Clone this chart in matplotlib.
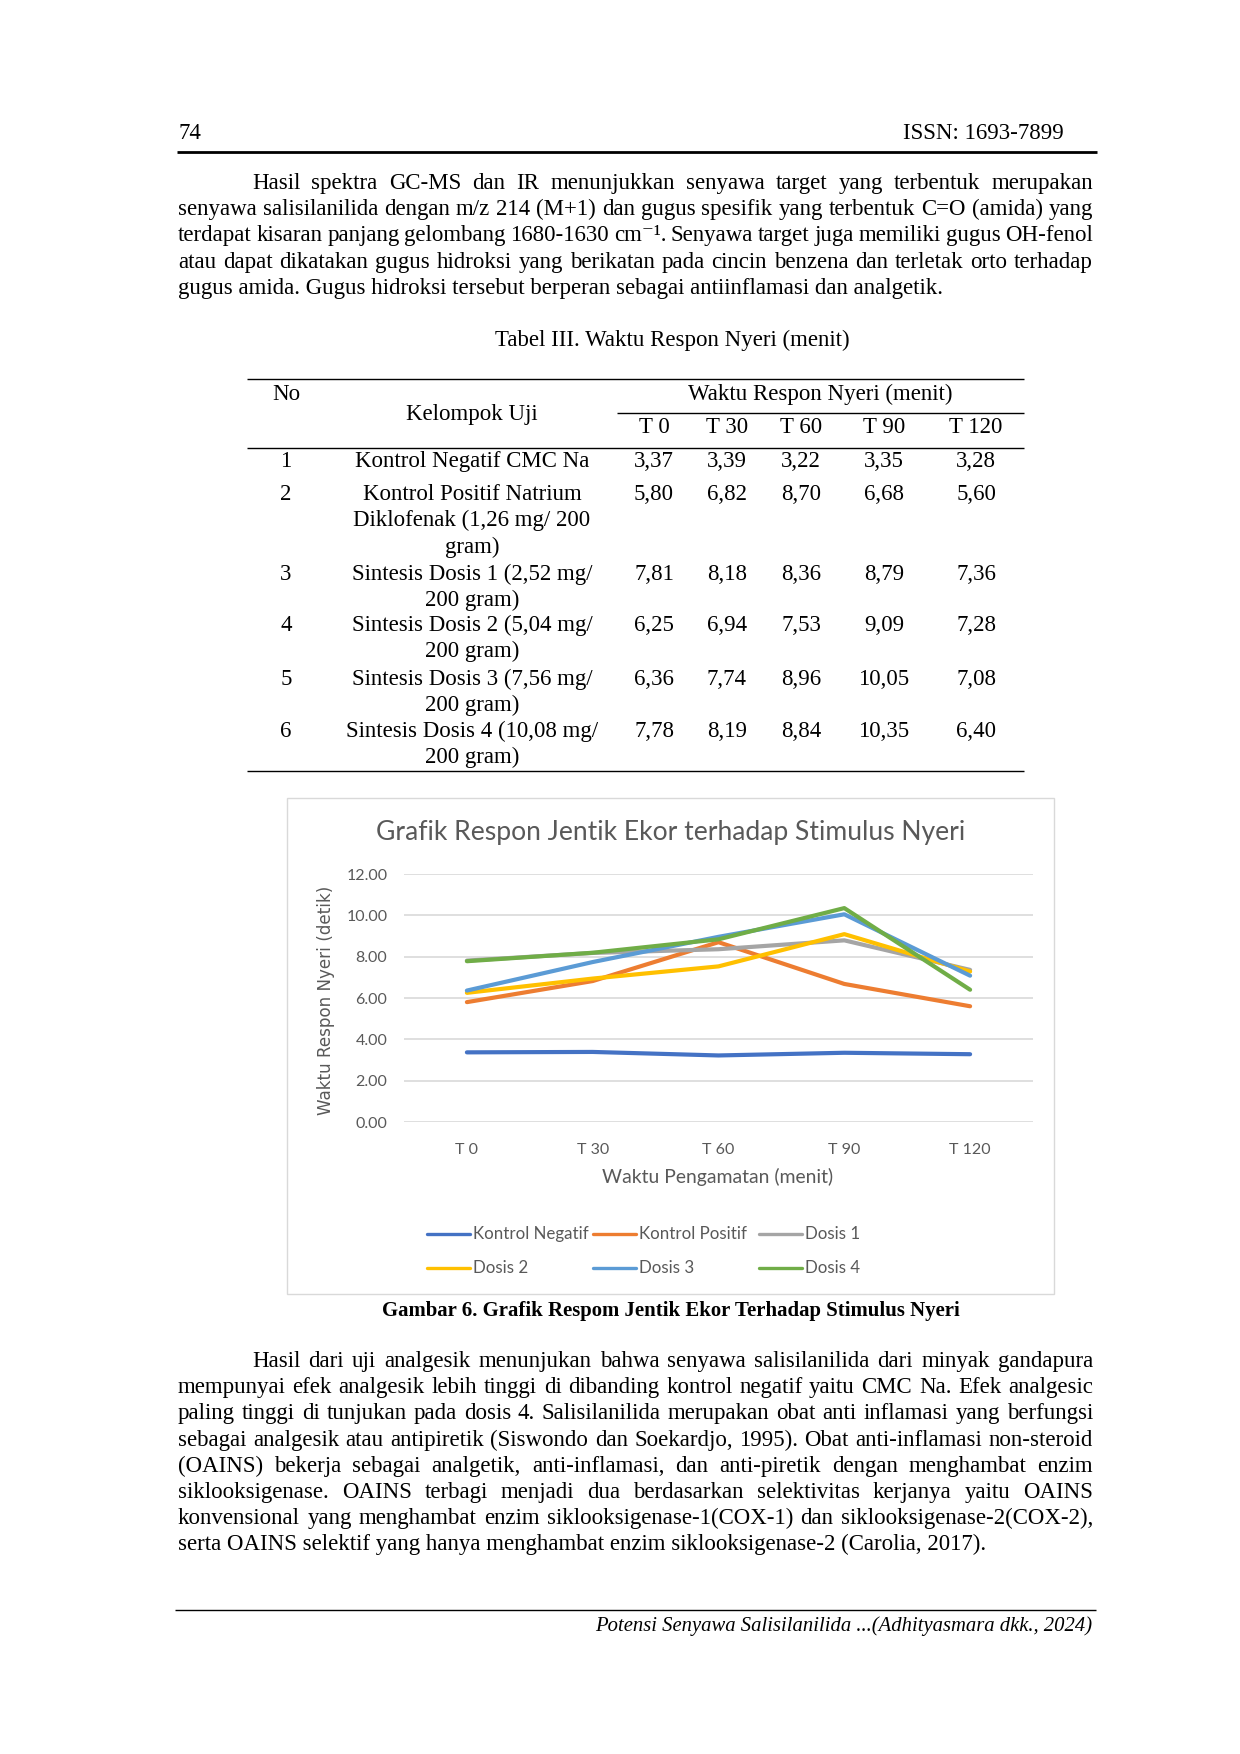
import matplotlib
matplotlib.use('Agg')
import matplotlib.pyplot as plt
from matplotlib.patches import Rectangle

# halaman 1240x1754 px, semua koordinat halaman dalam piksel (atas = 0)
W, H = 1240, 1754
DY = 3  # geser semua isi halaman ke bawah

waktu = ['T 0', 'T 30', 'T 60', 'T 90', 'T 120']
kelompok = ['Kontrol Negatif', 'Kontrol Positif', 'Dosis 1', 'Dosis 2', 'Dosis 3', 'Dosis 4']
warna = ['#4472C4', '#ED7D31', '#A5A5A5', '#FFC000', '#5B9BD5', '#70AD47']

kontrol_negatif = [3.37, 3.39, 3.22, 3.35, 3.28]
kontrol_positif = [5.80, 6.82, 8.70, 6.68, 5.60]
dosis_1 = [7.81, 8.18, 8.36, 8.79, 7.36]
dosis_2 = [6.25, 6.94, 7.53, 9.09, 7.28]
dosis_3 = [6.36, 7.74, 8.96, 10.05, 7.08]
dosis_4 = [7.78, 8.19, 8.84, 10.35, 6.40]
nilai = [kontrol_negatif, kontrol_positif, dosis_1, dosis_2, dosis_3, dosis_4]

nama_tabel = [
    ['Kontrol Negatif CMC Na'],
    ['Kontrol Positif Natrium', 'Diklofenak (1,26 mg/ 200', 'gram)'],
    ['Sintesis Dosis 1 (2,52 mg/', '200 gram)'],
    ['Sintesis Dosis 2 (5,04 mg/', '200 gram)'],
    ['Sintesis Dosis 3 (7,56 mg/', '200 gram)'],
    ['Sintesis Dosis 4 (10,08 mg/', '200 gram)'],
]

paragraf_1 = [
    'Hasil spektra GC-MS dan IR menunjukkan senyawa target yang terbentuk merupakan',
    'senyawa salisilanilida dengan m/z 214 (M+1) dan gugus spesifik yang terbentuk C=O (amida) yang',
    'terdapat kisaran panjang gelombang 1680-1630 cm\u207b\u00b9. Senyawa target juga memiliki gugus OH-fenol',
    'atau dapat dikatakan gugus hidroksi yang berikatan pada cincin benzena dan terletak orto terhadap',
    'gugus amida. Gugus hidroksi tersebut berperan sebagai antiinflamasi dan analgetik.',
]
paragraf_2 = [
    'Hasil dari uji analgesik menunjukan bahwa senyawa salisilanilida dari minyak gandapura',
    'mempunyai efek analgesik lebih tinggi di dibanding kontrol negatif yaitu CMC Na. Efek analgesic',
    'paling tinggi di tunjukan pada dosis 4. Salisilanilida merupakan obat anti inflamasi yang berfungsi',
    'sebagai analgesik atau antipiretik (Siswondo dan Soekardjo, 1995). Obat anti-inflamasi non-steroid',
    '(OAINS) bekerja sebagai analgetik, anti-inflamasi, dan anti-piretik dengan menghambat enzim',
    'siklooksigenase. OAINS terbagi menjadi dua berdasarkan selektivitas kerjanya yaitu OAINS',
    'konvensional yang menghambat enzim siklooksigenase-1(COX-1) dan siklooksigenase-2(COX-2),',
    'serta OAINS selektif yang hanya menghambat enzim siklooksigenase-2 (Carolia, 2017).',
]

SERIF = ['Liberation Serif', 'DejaVu Serif']
SANS = ['Lato', 'DejaVu Sans']
ABU = '#595959'

fig = plt.figure(figsize=(W / 100, H / 100), dpi=100)
fig.patch.set_facecolor('white')
renderer = fig.canvas.get_renderer()

page = fig.add_axes([0, 0, 1, 1])
page.set_xlim(0, W)
page.set_ylim(H - DY, -DY)
page.axis('off')


def lebar(s, **kw):
    t = fig.text(0, 0, s, **kw)
    w = t.get_window_extent(renderer=renderer).width
    t.remove()
    return w


def pas(s, target, **kw):
    # ukuran huruf supaya lebar teks sama dengan target (px)
    return 10 * target / lebar(s, fontsize=10, **kw)


fs_body = pas(paragraf_1[-1], 768, family=SERIF)
fs_cap = pas('Gambar 6. Grafik Respom Jentik Ekor Terhadap Stimulus Nyeri', 580, family=SERIF, weight='bold')
fs_foot = pas('Potensi Senyawa Salisilanilida ...(Adhityasmara dkk., 2024)', 497, family=SERIF, style='italic')


def justify(baris, y0, x0, x1, indent):
    for i, line in enumerate(baris):
        y = y0 + i * 26.2
        xs = x0 + (indent if i == 0 else 0)
        if i == len(baris) - 1:
            page.text(xs, y, line, family=SERIF, fontsize=fs_body, va='baseline', ha='left')
            continue
        words = line.split()
        ws = [lebar(w, family=SERIF, fontsize=fs_body) for w in words]
        gap = (x1 - xs - sum(ws)) / (len(words) - 1)
        x = xs
        for w, wd in zip(words, ws):
            page.text(x, y, w, family=SERIF, fontsize=fs_body, va='baseline', ha='left')
            x += wd + gap


# kepala halaman
page.text(178, 136, '74', family=SERIF, fontsize=fs_body, va='baseline', ha='left')
page.text(1064, 136, 'ISSN: 1693-7899', family=SERIF, fontsize=fs_body, va='baseline', ha='right')
page.plot([177, 1097], [149, 149], color='black', lw=2.0, solid_capstyle='butt')

justify(paragraf_1, 186, 178, 1093, 74)

# tabel
page.text(672, 343, 'Tabel III. Waktu Respon Nyeri (menit)', family=SERIF, fontsize=fs_body,
          va='baseline', ha='center')
garis = dict(color='black', lw=1.0, solid_capstyle='butt')
page.plot([247, 1024], [376, 376], **garis)
page.plot([617, 1024], [410, 410], **garis)
page.plot([247, 1024], [445, 445], **garis)
page.plot([247, 1024], [768, 768], **garis)

kol_x = [654, 727, 801, 884, 976]
page.text(286, 397, 'No', family=SERIF, fontsize=fs_body, va='baseline', ha='center')
page.text(472, 417, 'Kelompok Uji', family=SERIF, fontsize=fs_body, va='baseline', ha='center')
page.text(820, 397, 'Waktu Respon Nyeri (menit)', family=SERIF, fontsize=fs_body, va='baseline', ha='center')
for x, t in zip(kol_x, waktu):
    page.text(x, 430, t, family=SERIF, fontsize=fs_body, va='baseline', ha='center')

baris_y = [464, 497, 577, 628, 682, 734]
for i, (y, nama, vals) in enumerate(zip(baris_y, nama_tabel, nilai)):
    page.text(286, y, str(i + 1), family=SERIF, fontsize=fs_body, va='baseline', ha='center')
    for j, n in enumerate(nama):
        page.text(472, y + j * 26.3, n, family=SERIF, fontsize=fs_body, va='baseline', ha='center')
    for x, v in zip(kol_x, vals):
        page.text(x, y, f'{v:.2f}'.replace('.', ','), family=SERIF, fontsize=fs_body,
                  va='baseline', ha='center')

# grafik
page.add_patch(Rectangle((287, 795), 1054 - 287, 1291 - 795, fill=False, ec='#d9d9d9', lw=1.0))
judul = 'Grafik Respon Jentik Ekor terhadap Stimulus Nyeri'
page.text(671, 830, judul, family=SANS, fontsize=pas(judul, 589, family=SANS),
          color=ABU, va='center', ha='center')

xl = 'Waktu Pengamatan (menit)'
page.text(718, 1174, xl, family=SANS, fontsize=pas(xl, 231, family=SANS), color=ABU,
          va='center', ha='center')
yl = 'Waktu Respon Nyeri (detik)'
page.text(326, 997, yl, family=['DejaVu Sans'], fontsize=pas(yl, 229, family=['DejaVu Sans']),
          color=ABU, va='center', ha='center', rotation=90)

fs_tick = pas('12.00', 41, family=SANS)
ax = fig.add_axes([404 / W, 1 - (1119 + DY) / H, (1033 - 404) / W, (1119 - 871) / H])
ax.set_xlim(-0.5, 4.5)
ax.set_ylim(0, 12)
ax.set_yticks(range(0, 13, 2))
ax.set_yticklabels([f'{v:.2f}' for v in range(0, 13, 2)])
ax.set_xticks(range(len(waktu)))
ax.set_xticklabels(waktu)
ax.tick_params(length=0, labelsize=fs_tick, labelcolor=ABU)
ax.tick_params(axis='y', pad=12)
ax.tick_params(axis='x', pad=15)
for lab in ax.get_xticklabels() + ax.get_yticklabels():
    lab.set_family(SANS)
for s in ax.spines.values():
    s.set_visible(False)
ax.yaxis.grid(True, color='#d9d9d9', lw=1.2)
ax.set_axisbelow(True)
ax.patch.set_alpha(0)

for nama, vals, c in zip(kelompok, nilai, warna):
    ax.plot(range(len(vals)), vals, color=c, lw=3.0, solid_capstyle='round',
            solid_joinstyle='round', label=nama, clip_on=False)

# legenda (3 kolom, urut per baris)
fs_leg = pas('Kontrol Negatif', 115, family=SANS)
leg_x = [427, 593, 759]
leg_y = [1231, 1265]
for k, (nama, c) in enumerate(zip(kelompok, warna)):
    x = leg_x[k % 3]
    y = leg_y[k // 3]
    page.plot([x, x + 43], [y, y], color=c, lw=2.4, solid_capstyle='round')
    page.text(x + 46, y, nama, family=SANS, fontsize=fs_leg, color=ABU, va='center', ha='left')

page.text(671, 1313, 'Gambar 6. Grafik Respom Jentik Ekor Terhadap Stimulus Nyeri', family=SERIF,
          fontsize=fs_cap, weight='bold', va='baseline', ha='center')

justify(paragraf_2, 1364, 178, 1093, 74)

# kaki halaman
page.plot([175, 1096], [1607, 1607], color='black', lw=1.0, solid_capstyle='butt')
page.text(1092, 1628, 'Potensi Senyawa Salisilanilida ...(Adhityasmara dkk., 2024)', family=SERIF,
          fontsize=fs_foot, style='italic', va='baseline', ha='right')

fig.savefig('out.png', dpi=100)
